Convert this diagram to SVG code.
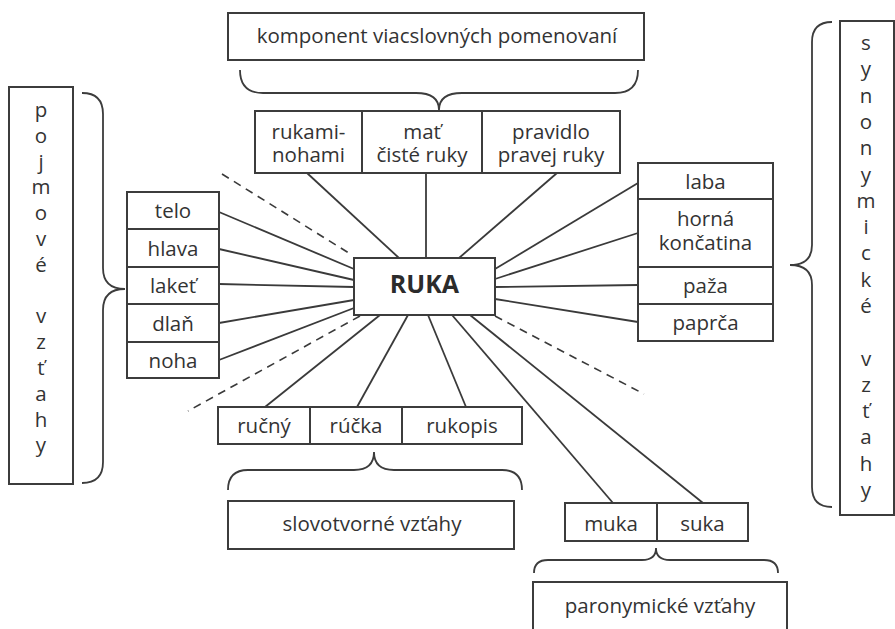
<svg xmlns="http://www.w3.org/2000/svg" width="895" height="629" viewBox="0 0 895 629">
<style>
  .box { fill: #ffffff; stroke: #3c3c3c; stroke-width: 2; }
  .t { font-family: "Open Sans", "Noto Sans", "DejaVu Sans", sans-serif; font-size: 20.5px; fill: #333333; text-anchor: middle; }
  .big { font-family: "Open Sans", "Noto Sans", "DejaVu Sans", sans-serif; font-size: 25px; font-weight: bold; fill: #2b2b2b; text-anchor: middle; }
  .ln { stroke: #3a3a3a; stroke-width: 1.8; fill: none; }
  .dash { stroke: #3a3a3a; stroke-width: 1.6; fill: none; stroke-dasharray: 8 6; }
  .brace { stroke: #3c3c3c; stroke-width: 1.8; fill: none; }
</style>
<rect width="895" height="629" fill="#ffffff"/>

<g id="connectors">
  <!-- top -->
  <line class="ln" x1="307" y1="173" x2="399" y2="258"/>
  <line class="ln" x1="426" y1="173" x2="426" y2="258"/>
  <line class="ln" x1="557" y1="173" x2="459" y2="258"/>
  <!-- left -->
  <line class="ln" x1="219" y1="212" x2="354" y2="269"/>
  <line class="ln" x1="219" y1="249" x2="354" y2="280"/>
  <line class="ln" x1="219" y1="284" x2="354" y2="287"/>
  <line class="ln" x1="219" y1="323" x2="354" y2="300"/>
  <line class="ln" x1="219" y1="360" x2="354" y2="308"/>
  <!-- right -->
  <line class="ln" x1="495" y1="269" x2="638" y2="183"/>
  <line class="ln" x1="495" y1="279" x2="638" y2="233"/>
  <line class="ln" x1="495" y1="287" x2="638" y2="285"/>
  <line class="ln" x1="495" y1="299" x2="638" y2="322"/>
  <!-- bottom -->
  <line class="ln" x1="380" y1="315" x2="265" y2="407"/>
  <line class="ln" x1="408" y1="315" x2="357" y2="407"/>
  <line class="ln" x1="428" y1="315" x2="466" y2="407"/>
  <line class="ln" x1="452" y1="315" x2="613" y2="503"/>
  <line class="ln" x1="470" y1="315" x2="703" y2="503"/>
  <!-- dashed separators -->
  <line class="dash" x1="222" y1="174" x2="352" y2="255"/>
  <line class="dash" x1="360" y1="316" x2="188" y2="411"/>
  <line class="dash" x1="495" y1="316" x2="644" y2="394"/>
  <!-- braces -->
  <path class="brace" d="M240,70 Q240,93 263,93 L416,93 Q439,93 439,110 Q439,93 462,93 L615,93 Q638,93 638,70"/>
  <path class="brace" d="M228,490 Q228,470 248,470 L354,470 Q374,470 374,452 Q374,470 394,470 L502,470 Q522,470 522,490"/>
  <path class="brace" d="M534,573 Q534,560 548,560 L642,560 Q656,560 656,548 Q656,560 670,560 L764,560 Q778,560 778,573"/>
  <path class="brace" d="M82,93 Q103,93 103,114 L103,268 Q103,289 125,289 Q103,289 103,310 L103,462 Q103,483 82,483"/>
  <path class="brace" d="M832,22 Q812,22 812,42 L812,245 Q812,265 790,265 Q812,265 812,285 L812,487 Q812,507 832,507"/>
</g>

<g id="ruka">
  <rect class="box" x="354" y="258" width="141" height="57"/>
  <text class="big" x="424.5" y="293">RUKA</text>
</g>

<g id="komponent-label">
  <rect class="box" x="228" y="13" width="416" height="47"/>
  <text class="t" x="437" y="43">komponent viacslovných pomenovaní</text>
</g>

<g id="rukami-nohami">
  <rect class="box" x="255" y="111" width="107" height="62"/>
  <text class="t" x="308.5" y="139">rukami-<tspan x="308.5" dy="23">nohami</tspan></text>
</g>
<g id="mat-ciste-ruky">
  <rect class="box" x="362" y="111" width="120" height="62"/>
  <text class="t" x="422" y="139">mať<tspan x="422" dy="23">čisté ruky</tspan></text>
</g>
<g id="pravidlo-pravej-ruky">
  <rect class="box" x="482" y="111" width="138" height="62"/>
  <text class="t" x="551" y="139">pravidlo<tspan x="551" dy="23">pravej ruky</tspan></text>
</g>

<g id="pojmove-label">
  <rect class="box" x="9" y="87" width="64" height="397"/>
  <text class="t" x="41" y="117">p<tspan x="41" dy="25.8">o</tspan><tspan x="41" dy="25.8">j</tspan><tspan x="41" dy="25.8">m</tspan><tspan x="41" dy="25.8">o</tspan><tspan x="41" dy="25.8">v</tspan><tspan x="41" dy="25.8">é</tspan><tspan x="41" dy="51.6">v</tspan><tspan x="41" dy="25.8">z</tspan><tspan x="41" dy="25.8">ť</tspan><tspan x="41" dy="25.8">a</tspan><tspan x="41" dy="25.8">h</tspan><tspan x="41" dy="25.8">y</tspan></text>
</g>

<g id="telo">
  <rect class="box" x="127" y="192" width="92" height="37"/>
  <text class="t" x="173" y="218">telo</text>
</g>
<g id="hlava">
  <rect class="box" x="127" y="229" width="92" height="38"/>
  <text class="t" x="173" y="255.5">hlava</text>
</g>
<g id="laket">
  <rect class="box" x="127" y="267" width="92" height="37"/>
  <text class="t" x="173" y="293">lakeť</text>
</g>
<g id="dlan">
  <rect class="box" x="127" y="304" width="92" height="38"/>
  <text class="t" x="173" y="330.5">dlaň</text>
</g>
<g id="noha">
  <rect class="box" x="127" y="342" width="92" height="36"/>
  <text class="t" x="173" y="367.5">noha</text>
</g>

<g id="laba">
  <rect class="box" x="638" y="163" width="135" height="36"/>
  <text class="t" x="705.5" y="188.5">laba</text>
</g>
<g id="horna-koncatina">
  <rect class="box" x="638" y="199" width="135" height="68"/>
  <text class="t" x="705.5" y="226">horná<tspan x="705.5" dy="24">končatina</tspan></text>
</g>
<g id="paza">
  <rect class="box" x="638" y="267" width="135" height="37"/>
  <text class="t" x="705.5" y="293">paža</text>
</g>
<g id="paprca">
  <rect class="box" x="638" y="304" width="135" height="37"/>
  <text class="t" x="705.5" y="330">paprča</text>
</g>

<g id="synonymicke-label">
  <rect class="box" x="840" y="21" width="54" height="494"/>
  <text class="t" x="866" y="50">s<tspan x="866" dy="26.3">y</tspan><tspan x="866" dy="26.3">n</tspan><tspan x="866" dy="26.3">o</tspan><tspan x="866" dy="26.3">n</tspan><tspan x="866" dy="26.3">y</tspan><tspan x="866" dy="26.3">m</tspan><tspan x="866" dy="26.3">i</tspan><tspan x="866" dy="26.3">c</tspan><tspan x="866" dy="26.3">k</tspan><tspan x="866" dy="26.3">é</tspan><tspan x="866" dy="52.6">v</tspan><tspan x="866" dy="26.3">z</tspan><tspan x="866" dy="26.3">ť</tspan><tspan x="866" dy="26.3">a</tspan><tspan x="866" dy="26.3">h</tspan><tspan x="866" dy="26.3">y</tspan></text>
</g>

<g id="rucny">
  <rect class="box" x="218" y="407" width="92" height="37"/>
  <text class="t" x="264" y="433">ručný</text>
</g>
<g id="rucka">
  <rect class="box" x="310" y="407" width="92" height="37"/>
  <text class="t" x="356" y="433">rúčka</text>
</g>
<g id="rukopis">
  <rect class="box" x="402" y="407" width="120" height="37"/>
  <text class="t" x="462" y="433">rukopis</text>
</g>

<g id="slovotvorne-label">
  <rect class="box" x="228" y="501" width="286" height="48"/>
  <text class="t" x="372" y="531">slovotvorné vzťahy</text>
</g>

<g id="muka">
  <rect class="box" x="565" y="503" width="92" height="38"/>
  <text class="t" x="611" y="531">muka</text>
</g>
<g id="suka">
  <rect class="box" x="657" y="503" width="91" height="38"/>
  <text class="t" x="702.5" y="531">suka</text>
</g>

<g id="paronymicke-label">
  <rect class="box" x="533" y="582" width="254" height="70"/>
  <text class="t" x="660" y="613">paronymické vzťahy</text>
</g>
</svg>
